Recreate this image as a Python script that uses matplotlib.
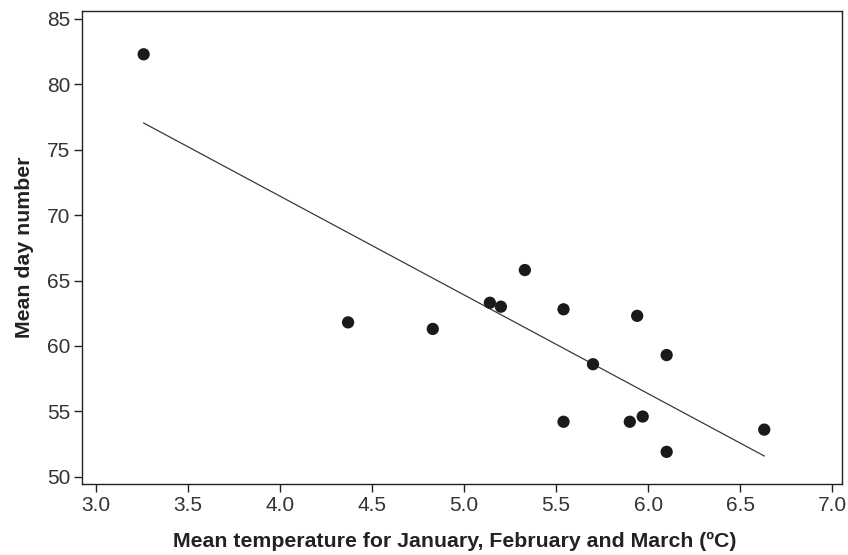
"""Scatter of mean day number against mean Jan-Mar temperature, with a fitted line."""

import matplotlib

matplotlib.use("Agg")
import matplotlib.pyplot as plt
import numpy as np

# Data
TEMPERATURE = [
    3.26, 4.37, 4.83, 5.14, 5.20, 5.33, 5.54, 5.94,
    6.10, 5.70, 5.54, 5.90, 5.97, 6.10, 6.63,
]
DAY_NUMBER = [
    82.3, 61.8, 61.3, 63.3, 63.0, 65.8, 62.8, 62.3,
    59.3, 58.6, 54.2, 54.2, 54.6, 51.9, 53.6,
]
X_TICKS = [3.0, 3.5, 4.0, 4.5, 5.0, 5.5, 6.0, 6.5, 7.0]
Y_TICKS = [50, 55, 60, 65, 70, 75, 80, 85]

plt.rcParams["font.family"] = ["Liberation Sans", "DejaVu Sans"]

fig = plt.figure(figsize=(8.48, 5.55), dpi=100)
ax = fig.add_axes([0.0971, 0.1279, 0.8962, 0.8523])

x = np.array(TEMPERATURE)
y = np.array(DAY_NUMBER)

# least-squares line over the range of the data
slope, intercept = np.polyfit(x, y, 1)
xs = np.array([x.min(), x.max()])
ax.plot(xs, slope * xs + intercept, color="#3a3a3a", linewidth=0.9, zorder=2)

ax.scatter(x, y, s=78, color="#1a1a1a", edgecolors="none", zorder=3)

ax.set_xlim(2.927, 7.054)
ax.set_ylim(49.44, 85.61)
ax.set_xticks(X_TICKS)
ax.set_xticklabels([f"{v:.1f}" for v in X_TICKS])
ax.set_yticks(Y_TICKS)

ax.tick_params(axis="both", direction="out", length=5.8, width=1.0,
               labelsize=15, labelcolor="#333333", color="#222222", pad=3)

for spine in ax.spines.values():
    spine.set_linewidth(1.0)
    spine.set_color("#222222")

ax.set_xlabel("Mean temperature for January, February and March (ºC)",
              fontsize=15.3, fontweight="bold", color="#222222", labelpad=12)
ax.xaxis.label.set_x(0.49)
ax.set_ylabel("Mean day number", fontsize=15.3, fontweight="bold",
              color="#222222", labelpad=9)

fig.savefig("out.png", dpi=100)
